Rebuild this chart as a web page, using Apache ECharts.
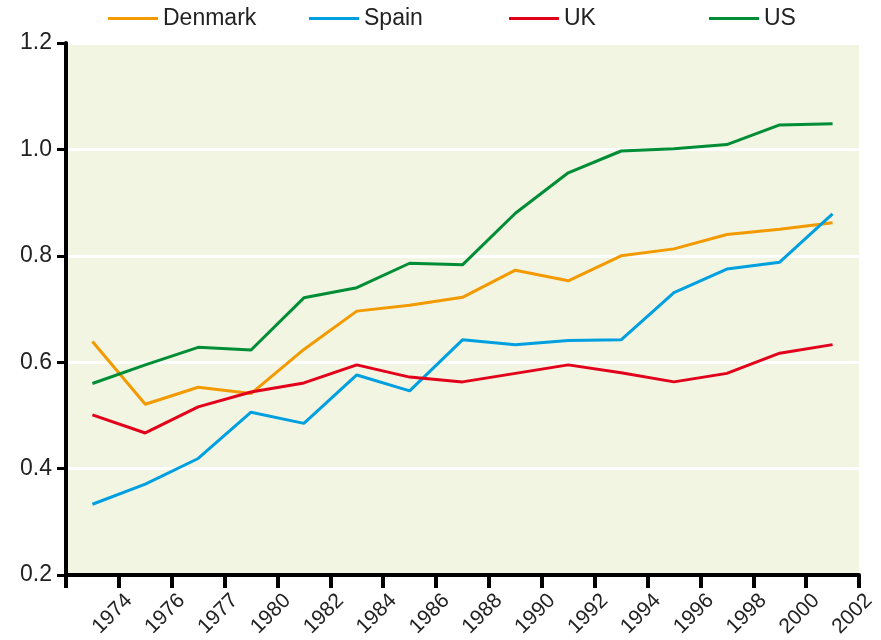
<!DOCTYPE html>
<html>
<head>
<meta charset="utf-8">
<script src="https://cdn.jsdelivr.net/npm/echarts@6/dist/echarts.min.js"></script>
<style>
  html, body { margin: 0; padding: 0; background: #fff; }
  #chart { width: 881px; height: 640px; }
</style>
</head>
<body>
<div id="chart"></div>
<script>
// x-axis labels (one per period, shown at the right edge of each band)
var years = ['1974', '1976', '1977', '1980', '1982', '1984', '1986', '1988',
  '1990', '1992', '1994', '1996', '1998', '2000', '2002'];

var denmark = [0.639, 0.521, 0.553, 0.541, 0.624, 0.696, 0.707, 0.722, 0.773, 0.753, 0.800, 0.813, 0.840, 0.850, 0.862];
var spain   = [0.333, 0.371, 0.419, 0.506, 0.485, 0.576, 0.546, 0.642, 0.633, 0.641, 0.642, 0.731, 0.775, 0.788, 0.879];
var uk      = [0.501, 0.467, 0.516, 0.544, 0.561, 0.595, 0.572, 0.563, 0.579, 0.595, 0.580, 0.563, 0.579, 0.617, 0.633];
var us      = [0.560, 0.595, 0.628, 0.623, 0.721, 0.740, 0.786, 0.783, 0.880, 0.956, 0.997, 1.001, 1.009, 1.046, 1.048];

var countries = ['Denmark', 'Spain', 'UK', 'US'];
var colors = ['#F39A00', '#00A0E0', '#E2001A', '#008D36'];
var yTicks = [0.2, 0.4, 0.6, 0.8, 1.0, 1.2];

var FONT = '"Liberation Sans", Arial, Helvetica, sans-serif';
var chart = echarts.init(document.getElementById('chart'));

function line(name, data, color) {
  return {
    name: name,
    type: 'line',
    data: data,
    symbol: 'none',
    lineStyle: { width: 3, color: color },
    itemStyle: { color: color }
  };
}

// one legend per entry so the items sit on an even 200px spacing
var legendLeft = [103, 304, 504, 704];
var legends = countries.map(function (c, i) {
  return {
    left: legendLeft[i],
    top: 2,
    icon: 'rect',
    itemWidth: 50,
    itemHeight: 3,
    textStyle: { fontFamily: FONT, fontSize: 23, color: '#222' },
    data: [c]
  };
});

var option = {
  animation: false,
  legend: legends,
  grid: [
    { left: 66, right: 22, top: 43, bottom: 65, show: true, backgroundColor: '#F1F5E2', borderWidth: 0 },
    // label-only grid, shifted a little right so labels sit beside the ticks
    { left: 76, right: 12, top: 43, bottom: 65, show: false }
  ],
  xAxis: [
    {
      type: 'category',
      gridIndex: 0,
      data: years,
      boundaryGap: true,
      axisLine: { lineStyle: { color: '#000', width: 4 } },
      axisTick: { show: true, length: 13, lineStyle: { color: '#000', width: 4 } },
      axisLabel: { show: false },
      splitLine: { show: false }
    },
    {
      type: 'category',
      gridIndex: 1,
      data: [''].concat(years),
      boundaryGap: false,
      axisLine: { show: false },
      axisTick: { show: false },
      splitLine: { show: false },
      axisLabel: {
        interval: 0,
        rotate: 45,
        margin: 24,
        fontFamily: FONT,
        fontSize: 21,
        color: '#222'
      }
    }
  ],
  yAxis: [
    {
      type: 'value',
      gridIndex: 0,
      min: yTicks[0],
      max: yTicks[yTicks.length - 1],
      interval: 0.2,
      axisLine: { show: true, lineStyle: { color: '#000', width: 4 } },
      axisTick: { show: true, length: 9, lineStyle: { color: '#000', width: 3 } },
      axisLabel: {
        margin: 14,
        fontFamily: FONT,
        fontSize: 23,
        color: '#222',
        formatter: function (v) { return v.toFixed(1); }
      },
      splitLine: { show: true, lineStyle: { color: '#fff', width: 3 } }
    },
    { type: 'value', gridIndex: 1, show: false }
  ],
  series: [
    line(countries[0], denmark, colors[0]),
    line(countries[1], spain, colors[1]),
    line(countries[2], uk, colors[2]),
    line(countries[3], us, colors[3])
  ]
};

chart.setOption(option);
</script>
</body>
</html>
